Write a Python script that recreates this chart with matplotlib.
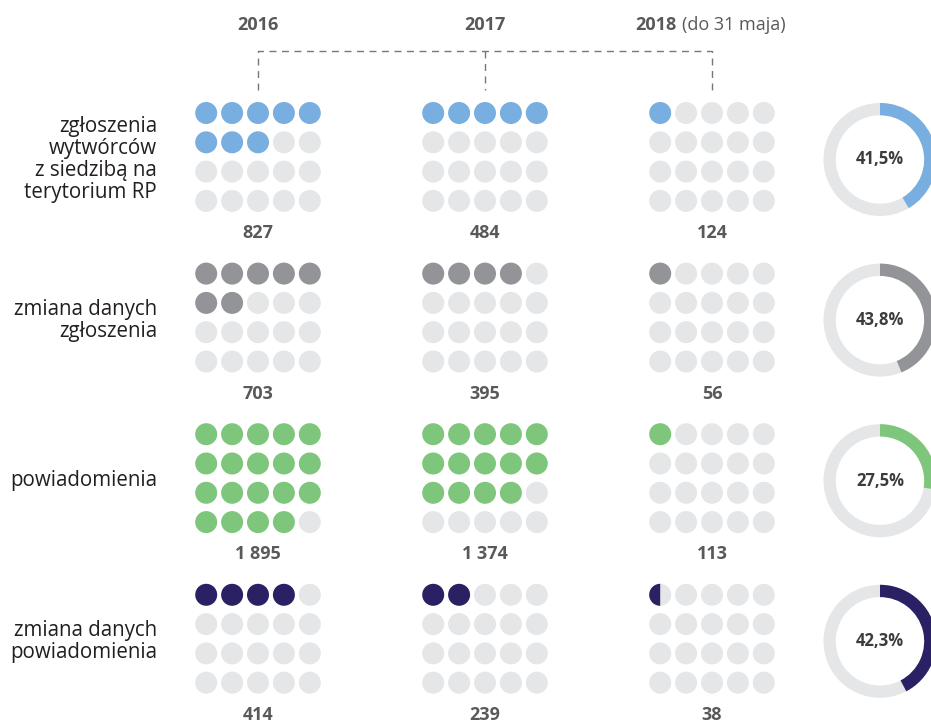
import matplotlib
matplotlib.use("Agg")
import matplotlib.pyplot as plt
from matplotlib.patches import Circle, Wedge

# ============================================================
# DANE
# ============================================================

lata = ["2016", "2017", "2018"]
kategorie = [
    "zgłoszenia\nwytwórców\nz siedzibą na\nterytorium RP",
    "zmiana danych\nzgłoszenia",
    "powiadomienia",
    "zmiana danych\npowiadomienia",
]
wartosci = [
    [827, 484, 124],
    [703, 395, 56],
    [1895, 1374, 113],
    [414, 239, 38],
]
# liczba wypełnionych kropek (1 kropka ~ 100)
kropki = [
    [8, 5, 1],
    [7, 4, 1],
    [19, 14, 1],
    [4, 2, 0.5],
]
procenty = [41.5, 43.8, 27.5, 42.3]
kolory = ["#78aee0", "#939497", "#7ec67b", "#2a2165"]

szary = "#e5e6e8"
tekst = "#58595b"

# ============================================================
# RYSOWANIE
# ============================================================

W, H = 931, 722
fig = plt.figure(figsize=(W / 100, H / 100), dpi=100)
ax = fig.add_axes([0, 0, 1, 1])
ax.set_xlim(0, W)
ax.set_ylim(H, 0)
ax.set_aspect("equal")
ax.axis("off")

font = "Open Sans"

x_kol = [258, 485, 712]
dx, dy, r = 25.9, 29.3, 11
y0, dblok = 113, 160.6

# nagłówki lat
ax.text(x_kol[0], 25, lata[0], ha="center", va="center", fontsize=13,
        fontweight="bold", color=tekst, family=font)
ax.text(x_kol[1], 25, lata[1], ha="center", va="center", fontsize=13,
        fontweight="bold", color=tekst, family=font)
ax.text(677, 25, lata[2], ha="right", va="center", fontsize=13,
        fontweight="bold", color=tekst, family=font)
ax.text(682, 25, "(do 31 maja)", ha="left", va="center", fontsize=13,
        color=tekst, family=font)

# przerywana klamra
ax.plot([x_kol[0], x_kol[0], x_kol[2], x_kol[2]], [90, 51, 51, 90],
        color="#777777", lw=1, ls=(0, (5, 4)))
ax.plot([x_kol[1], x_kol[1]], [51, 90], color="#777777", lw=1, ls=(0, (5, 4)))

for i, kat in enumerate(kategorie):
    yb = y0 + i * dblok
    for j in range(3):
        n = kropki[i][j]
        for k in range(20):
            cx = x_kol[j] + (k % 5 - 2) * dx
            cy = yb + (k // 5) * dy
            if k < int(n):
                ax.add_patch(Circle((cx, cy), r, color=kolory[i], lw=0))
            elif k < n:
                ax.add_patch(Circle((cx, cy), r, color=szary, lw=0))
                ax.add_patch(Wedge((cx, cy), r, 90, 270, color=kolory[i], lw=0))
            else:
                ax.add_patch(Circle((cx, cy), r, color=szary, lw=0))
        etykieta = f"{wartosci[i][j]:,}".replace(",", " ")
        ax.text(x_kol[j], yb + 125, etykieta, ha="center", va="baseline",
                fontsize=13, fontweight="bold", color=tekst, family=font)

    # etykieta kategorii
    yc = yb + 46.5
    ax.text(157, yc, kat, ha="right", va="center", fontsize=14.8,
            color="#231f20", family=font, linespacing=1.05)

    # pierścień
    R, w = 56.5, 12.3
    ax.add_patch(Wedge((880, yc), R, 0, 360, width=w, color=szary, lw=0))
    ax.add_patch(Wedge((880, yc), R, -90, -90 + 3.6 * procenty[i], width=w,
                       color=kolory[i], lw=0))
    ax.text(880, yc, f"{procenty[i]:.1f}%".replace(".", ","), ha="center",
            va="center", fontsize=12, fontweight="bold", color="#3c3c3e",
            family=font)

fig.savefig("out.png", dpi=100)
